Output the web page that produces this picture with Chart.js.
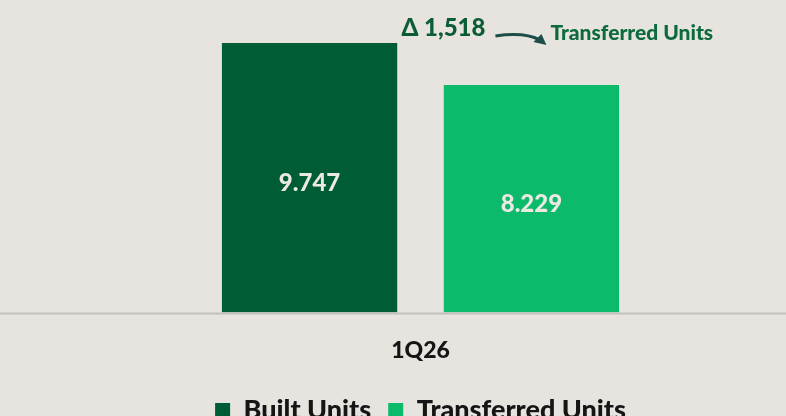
<!DOCTYPE html>
<html>
<head>
<meta charset="utf-8">
<script src="https://cdn.jsdelivr.net/npm/chart.js@4/dist/chart.umd.min.js"></script>
<style>
  html, body { margin: 0; padding: 0; background: #e7e3de; overflow: hidden; }
  #wrap { position: relative; width: 786px; height: 434px; }
</style>
</head>
<body>
<div id="wrap"><canvas id="unitsChart"></canvas></div>
<script>
const categories = ['1Q26'];
const builtUnits = [9747];
const transferredUnits = [8229];
const valueLabels = [['9.747'], ['8.229']];
const deltaLabel = 'Δ 1,518';
const deltaNote = 'Transferred Units';

const FONT = "Lato, 'Open Sans', sans-serif";

// values inside bars + delta note above the second bar
const barText = {
    id: 'barText',
    afterDatasetsDraw(chart) {
        const ctx = chart.ctx;
        const base = chart.scales.y.getPixelForValue(0);
        ctx.save();
        ctx.font = '900 24px ' + FONT;
        ctx.fillStyle = '#ece8e2';
        ctx.textAlign = 'center';
        ctx.textBaseline = 'middle';
        chart.data.datasets.forEach((ds, i) => {
            chart.getDatasetMeta(i).data.forEach((bar, j) => {
                ctx.fillText(valueLabels[i][j], bar.x, (bar.y + base) / 2 + 6);
            });
        });

        const bar = chart.getDatasetMeta(1).data[0];
        ctx.fillStyle = '#0b5c35';
        ctx.textAlign = 'right';
        ctx.fillText(deltaLabel, bar.x - 46, bar.y - 57);

        // arrow
        ctx.strokeStyle = '#1d4d48';
        ctx.fillStyle = '#1d4d48';
        ctx.lineWidth = 3;
        ctx.beginPath();
        ctx.moveTo(bar.x - 36, bar.y - 49);
        ctx.quadraticCurveTo(bar.x - 6, bar.y - 53, bar.x + 8, bar.y - 45);
        ctx.stroke();
        ctx.beginPath();
        ctx.moveTo(bar.x + 15, bar.y - 40);
        ctx.lineTo(bar.x + 2, bar.y - 43);
        ctx.lineTo(bar.x + 10, bar.y - 51);
        ctx.closePath();
        ctx.fill();

        ctx.fillStyle = '#0b6b3c';
        ctx.font = '900 21px ' + FONT;
        ctx.textAlign = 'left';
        ctx.fillText(deltaNote, bar.x + 19, bar.y - 52);

        // baseline across the full width
        ctx.strokeStyle = '#c4c0bb';
        ctx.lineWidth = 2;
        ctx.beginPath();
        ctx.moveTo(0, base + 1);
        ctx.lineTo(chart.width, base + 1);
        ctx.stroke();
        ctx.restore();
    }
};

const ctx = document.getElementById('unitsChart').getContext('2d');
new Chart(ctx, {
    type: 'bar',
    data: {
        labels: categories,
        datasets: [{
            label: 'Built Units',
            data: builtUnits,
            backgroundColor: '#005c35',
            borderWidth: 0,
            barPercentage: 0.79,
            categoryPercentage: 0.607
        }, {
            label: 'Transferred Units',
            data: transferredUnits,
            backgroundColor: '#0cba6b',
            borderWidth: 0,
            barPercentage: 0.79,
            categoryPercentage: 0.607
        }]
    },
    options: {
        responsive: true,
        maintainAspectRatio: false,
        animation: false,
        layout: { padding: { left: 55, right: 0, top: 0, bottom: 0 } },
        scales: {
            x: {
                grid: { display: false },
                border: { display: false },
                ticks: {
                    color: '#151515',
                    padding: 16,
                    font: { family: FONT, size: 23, weight: '900' }
                }
            },
            y: {
                display: false,
                min: 0,
                max: 11300
            }
        },
        plugins: {
            legend: {
                position: 'bottom',
                labels: {
                    color: '#151515',
                    boxWidth: 15,
                    boxHeight: 15,
                    padding: 17,
                    font: { family: FONT, size: 27, weight: '900' }
                }
            },
            tooltip: { enabled: false }
        }
    },
    plugins: [barText]
});
</script>
</body>
</html>
